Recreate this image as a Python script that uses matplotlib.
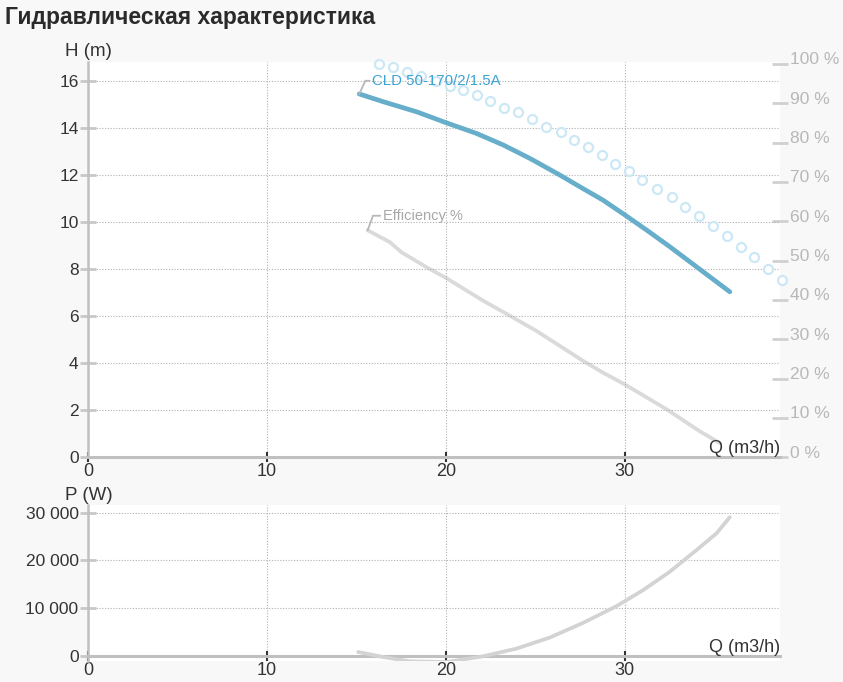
import numpy as np
import matplotlib
matplotlib.use("Agg")
import matplotlib.pyplot as plt
from matplotlib.ticker import FuncFormatter
from matplotlib.transforms import ScaledTranslation, blended_transform_factory

plt.rcParams['font.family'] = ['Liberation Sans', 'DejaVu Sans']

# Данные
q_head = [15.16, 16.50, 18.37, 20.04, 21.72, 23.21, 24.70, 26.38, 27.50, 28.80, 30.02, 31.23, 32.53, 33.65, 34.77, 35.89]
h_head = [15.46, 15.13, 14.70, 14.23, 13.78, 13.29, 12.72, 12.01, 11.51, 10.94, 10.31, 9.67, 8.96, 8.32, 7.68, 7.04]

q_circ = [16.28, 17.06, 17.84, 18.64, 19.45, 20.23, 20.97, 21.72, 22.50, 23.27,
          24.05, 24.80, 25.60, 26.42, 27.18, 27.95, 28.73, 29.49, 30.26, 31.00,
          31.81, 32.63, 33.41, 34.17, 34.96, 35.72, 36.49, 37.25, 38.03, 38.83]
h_circ = [16.73, 16.59, 16.39, 16.22, 16.02, 15.81, 15.61, 15.41, 15.16, 14.87,
          14.68, 14.39, 14.07, 13.82, 13.51, 13.19, 12.85, 12.49, 12.18, 11.81,
          11.43, 11.06, 10.65, 10.26, 9.85, 9.41, 8.93, 8.51, 8.02, 7.55]

q_eff = [15.63, 16.87, 17.53, 18.93, 20.01, 22.09, 23.58, 25.08, 27.68, 28.80, 30.02, 32.35, 34.21, 35.33]
eff = [57.7, 54.7, 52.1, 48.3, 45.6, 39.8, 36.0, 32.1, 24.5, 21.5, 18.5, 12.2, 6.6, 3.6]

q_pow = [15.10, 16.50, 17.99, 20.04, 22.09, 23.96, 25.82, 27.68, 29.55, 31.04, 32.53, 34.03, 35.15, 35.89]
p_pow = [840, -210, -1110, -1260, -60, 1550, 3860, 6930, 10430, 13780, 17620, 22170, 25670, 29030]

h_ticks = [0, 2, 4, 6, 8, 10, 12, 14, 16]
eff_ticks = [0, 10, 20, 30, 40, 50, 60, 70, 80, 90, 100]
p_ticks = [0, 10000, 20000, 30000]
q_ticks = [0, 10, 20, 30]

dark = '#333333'
axis_grey = '#c0c0c0'

fig = plt.figure(figsize=(8.43, 6.82), dpi=100, facecolor='#f8f8f8')
fig.text(0.006, 0.975, 'Гидравлическая характеристика', fontsize=16.5, fontweight='bold',
         color='#2a2a2a', ha='left', va='center')


def style_axes(ax, yticks, ylabel):
    ax.set_facecolor('white')
    for s in ['top', 'right']:
        ax.spines[s].set_visible(False)
    ax.spines['left'].set_color(axis_grey)
    ax.spines['left'].set_linewidth(1.8)
    ax.spines['bottom'].set_color(axis_grey)
    ax.spines['bottom'].set_linewidth(2.2)
    ax.spines['bottom'].set_position(('data', 0))
    ax.spines['bottom'].set_zorder(1)
    ax.set_xlim(0, 38.7)
    ax.set_xticks(q_ticks)
    ax.set_yticks(yticks)
    ax.tick_params(axis='x', direction='inout', length=6.5, width=1.5, color=dark,
                   labelsize=13, labelcolor=dark, pad=1)
    ax.tick_params(axis='y', direction='inout', length=12, width=2, color='#c8c8c8',
                   labelsize=12.5, labelcolor=dark, pad=1)
    ax.grid(True, linestyle=(0, (1, 1.5)), color='#b0b0b0', linewidth=0.8)
    ax.set_axisbelow(True)
    ax.text(-0.033, 1.005, ylabel, transform=ax.transAxes, fontsize=13.5, color=dark,
            ha='left', va='bottom')
    trans = blended_transform_factory(ax.transAxes, ax.transData)
    ax.text(1.0, 0, 'Q (m3/h)', transform=trans, fontsize=13, color=dark,
            ha='right', va='bottom')


# Верхний график: напор и КПД
ax = fig.add_axes([0.1047, 0.3296, 0.8206, 0.5795])
ax.set_ylim(0, 16.82)
style_axes(ax, h_ticks, 'H (m)')

ax2 = ax.twinx()
ax2.set_ylim(0, 100.5)
ax2.set_yticks(eff_ticks)
ax2.set_yticklabels([f'{v} %' for v in eff_ticks])
for s in ax2.spines.values():
    s.set_visible(False)
ax2.tick_params(axis='y', direction='inout', length=12, width=2, color='#d0d0d0',
                labelsize=12.5, labelcolor='#b8b8b8', pad=1)
for lab in ax2.get_yticklabels():
    lab.set_transform(lab.get_transform() + ScaledTranslation(0, 4 / 72, fig.dpi_scale_trans))

ax2.plot(q_eff, eff, color='#dadada', linewidth=2.7, solid_capstyle='round', zorder=3)
ax2.annotate('Efficiency %', xy=(q_eff[0], eff[0]), xytext=(11, 10.5), textcoords='offset points',
             ha='left', va='center', fontsize=10.5, color='#a8a8a8',
             arrowprops=dict(arrowstyle='-', color='#b8b8b8', lw=1.3, shrinkA=0, shrinkB=0,
                             connectionstyle='angle,angleA=0,angleB=70'))

ax.plot(q_circ, h_circ, linestyle='none', marker='o', markersize=6.5, markerfacecolor='white',
        markeredgecolor='#cde8f5', markeredgewidth=1.6, clip_on=False, zorder=4)
ax.plot(q_head, h_head, color='#67aecb', linewidth=3.4, solid_capstyle='round', zorder=5)
ax.annotate('CLD 50-170/2/1.5A', xy=(q_head[0], h_head[0]), xytext=(9.5, 9.5),
            textcoords='offset points', ha='left', va='center', fontsize=10.8, color='#3ca3d4',
            zorder=6,
            arrowprops=dict(arrowstyle='-', color='#b8b8b8', lw=1.3, shrinkA=0, shrinkB=0,
                            connectionstyle='angle,angleA=0,angleB=65'))
ax.set_zorder(ax2.get_zorder() + 1)
ax.patch.set_visible(False)
ax2.patch.set_visible(True)
ax2.patch.set_facecolor('white')

# Нижний график: мощность
axp = fig.add_axes([0.1047, 0.0304, 0.8206, 0.2292])
axp.set_ylim(-1100, 31600)
style_axes(axp, p_ticks, 'P (W)')
axp.yaxis.set_major_formatter(FuncFormatter(lambda v, pos: f'{int(v):,}'.replace(',', ' ')))
axp.plot(q_pow, p_pow, color='#d3d3d3', linewidth=2.7, solid_capstyle='round', zorder=3)

fig.savefig('out.png', dpi=100, facecolor=fig.get_facecolor())
